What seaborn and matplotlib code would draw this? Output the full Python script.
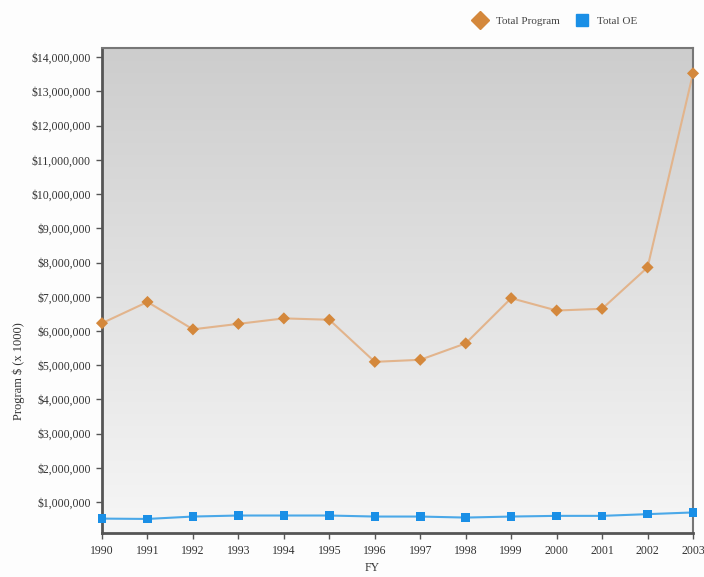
import numpy as np
import pandas as pd
import matplotlib
matplotlib.use("Agg")
import matplotlib.pyplot as plt
from matplotlib.ticker import FuncFormatter
from matplotlib.lines import Line2D
import seaborn as sns

years = [1990, 1991, 1992, 1993, 1994, 1995, 1996, 1997, 1998, 1999, 2000, 2001, 2002, 2003]
total_program = [6.23, 6.85, 6.05, 6.21, 6.37, 6.33, 5.10, 5.16, 5.64, 6.96, 6.60, 6.65, 7.86, 13.53]
total_oe = [0.52, 0.51, 0.58, 0.61, 0.61, 0.61, 0.58, 0.58, 0.55, 0.58, 0.60, 0.60, 0.65, 0.70]
series_names = ["Total Program", "Total OE"]

df = pd.DataFrame({
    "FY": years * 2,
    "value": [v * 1e6 for v in total_program] + [v * 1e6 for v in total_oe],
    "series": [series_names[0]] * len(years) + [series_names[1]] * len(years),
})

sns.set_style("white")
plt.rcParams["font.family"] = ["Liberation Serif", "DejaVu Serif"]

fig = plt.figure(figsize=(7.04, 5.77), dpi=100, facecolor="#fdfdfd")
ax = fig.add_axes([0.1449, 0.0763, 0.8395, 0.8405])

# vertical gray gradient for the plotting area: darker at the top
grad = np.linspace(0, 1, 256).reshape(-1, 1)
cmap = matplotlib.colors.LinearSegmentedColormap.from_list("bg", ["#cdcdcd", "#f6f6f6"])
ax.imshow(grad, aspect="auto", cmap=cmap, extent=[0, 1, 0, 1], origin="upper",
          transform=ax.transAxes, zorder=0, interpolation="bicubic")

line_cols = {"Total Program": "#e2b48c", "Total OE": "#4aa8e8"}
mark_cols = {"Total Program": "#d4883c", "Total OE": "#1a8fe6"}
markers = {"Total Program": "D", "Total OE": "s"}

sns.lineplot(data=df, x="FY", y="value", hue="series", palette=line_cols,
             linewidth=1.5, legend=False, ax=ax, zorder=2)
for name in series_names:
    sub = df[df["series"] == name]
    sns.scatterplot(data=sub, x="FY", y="value", color=mark_cols[name],
                    marker=markers[name], s=38, edgecolor="none",
                    legend=False, ax=ax, zorder=3, clip_on=False)

ax.set_xlim(1990, 2003)
ax.set_ylim(0.1e6, 14.27e6)
ax.set_xticks(years)
ax.set_yticks(np.arange(1, 15) * 1e6)
ax.yaxis.set_major_formatter(FuncFormatter(lambda v, p: "${:,.0f}".format(v)))
ax.tick_params(axis="both", direction="out", length=4, width=1, color="#555555",
               labelsize=8.5, labelcolor="#333333", pad=5)
ax.tick_params(axis="y", left=True, pad=4)
ax.tick_params(axis="x", bottom=True)

for side in ["left", "bottom"]:
    ax.spines[side].set_color("#555555")
    ax.spines[side].set_linewidth(2)
for side in ["right", "top"]:
    ax.spines[side].set_color("#777777")
    ax.spines[side].set_linewidth(1.5)

ax.set_xlabel("FY", fontsize=8.5, color="#333333")
ax.set_ylabel("Program $ (x 1000)", fontsize=9, color="#333333")
ax.xaxis.set_label_coords(0.457, -0.060)
ax.yaxis.set_label_coords(-0.130, 0.334)

handles = [
    Line2D([], [], linestyle="none", marker="D", markersize=9, color=mark_cols["Total Program"]),
    Line2D([], [], linestyle="none", marker="s", markersize=8, color=mark_cols["Total OE"]),
]
fig.legend(handles, series_names, loc="center", bbox_to_anchor=(0.786, 0.963),
           ncol=2, frameon=False, fontsize=8, handletextpad=0.4, columnspacing=1.0,
           labelcolor="#444444")

fig.savefig("out.png", dpi=100, facecolor=fig.get_facecolor())
